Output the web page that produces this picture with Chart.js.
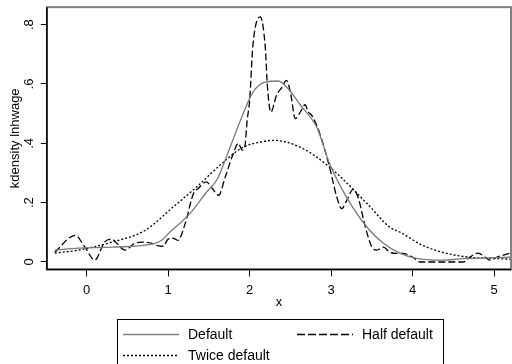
<!DOCTYPE html>
<html>
<head>
<meta charset="utf-8">
<script src="https://cdn.jsdelivr.net/npm/chart.js@4/dist/chart.umd.min.js"></script>
<style>
  html, body { margin: 0; padding: 0; background: #fff; overflow: hidden; }
  #wrap { position: relative; width: 512px; height: 364px; }
  #legend {
    position: absolute; left: 117px; top: 319px; width: 327px; height: 60px;
    border: 1px solid #000; box-sizing: border-box;
    font-family: "Liberation Sans", Arial, sans-serif; font-size: 14px; color: #000;
  }
  .item { position: absolute; height: 16px; line-height: 16px; }
  .item svg { position: absolute; left: 0; top: 7px; }
  .lbl { position: absolute; left: 65px; top: 0; white-space: nowrap; }
</style>
</head>
<body>
<div id="wrap">
  <canvas id="myChart" width="512" height="364"></canvas>
  <div id="legend">
    <div class="item" style="left:5px;top:6px;">
      <svg width="56" height="3"><line x1="0" y1="1.5" x2="56" y2="1.5" stroke="#808080" stroke-width="1.5"/></svg>
      <div class="lbl">Default</div>
    </div>
    <div class="item" style="left:179px;top:6px;">
      <svg width="56" height="3"><line x1="0" y1="1.5" x2="56" y2="1.5" stroke="#000" stroke-width="1.5" stroke-dasharray="8 3"/></svg>
      <div class="lbl">Half default</div>
    </div>
    <div class="item" style="left:5px;top:27px;">
      <svg width="56" height="3"><line x1="0" y1="1.5" x2="56" y2="1.5" stroke="#000" stroke-width="1.3" stroke-dasharray="2 2"/></svg>
      <div class="lbl">Twice default</div>
    </div>
  </div>
</div>
<script>
// kernel density of lnhwage, three bandwidths
const defaultX = [-0.39, -0.1, 0.31, 0.84, 0.92, 1.02, 1.27, 1.47, 1.6, 1.76, 1.92, 2.04, 2.19, 2.35, 2.47, 2.62, 2.83, 2.98, 3.19, 3.44, 3.64, 3.85, 4.05, 4.34, 4.67, 5.2];
const defaultY = [0.04, 0.047, 0.05, 0.063, 0.073, 0.1, 0.164, 0.235, 0.278, 0.387, 0.5, 0.572, 0.606, 0.61, 0.585, 0.53, 0.45, 0.332, 0.218, 0.117, 0.063, 0.029, 0.012, 0.006, 0.012, 0.016];

const halfX = [-0.39, -0.14, -0.02, 0.1, 0.22, 0.31, 0.37, 0.47, 0.59, 0.68, 0.8, 0.86, 0.94, 1.0, 1.06, 1.12, 1.21, 1.31, 1.37, 1.47, 1.53, 1.62, 1.7, 1.8, 1.86, 1.91, 1.94, 1.97, 2.0, 2.04, 2.13, 2.19, 2.22, 2.26, 2.33, 2.4, 2.45, 2.5, 2.56, 2.62, 2.68, 2.72, 2.76, 2.86, 2.98, 3.07, 3.13, 3.19, 3.27, 3.33, 3.42, 3.5, 3.56, 3.64, 3.72, 3.8, 3.88, 4.0, 4.09, 4.62, 4.7, 4.8, 4.89, 4.95, 5.03, 5.2];
const halfY = [0.033, 0.09, 0.05, 0.006, 0.067, 0.077, 0.063, 0.04, 0.063, 0.067, 0.063, 0.056, 0.053, 0.077, 0.08, 0.073, 0.13, 0.23, 0.248, 0.27, 0.252, 0.225, 0.286, 0.366, 0.4, 0.377, 0.387, 0.478, 0.545, 0.73, 0.826, 0.73, 0.585, 0.505, 0.562, 0.59, 0.612, 0.573, 0.483, 0.505, 0.53, 0.505, 0.495, 0.433, 0.32, 0.218, 0.18, 0.207, 0.245, 0.218, 0.117, 0.05, 0.04, 0.05, 0.033, 0.029, 0.029, 0.016, 0.0, 0.0, 0.016, 0.03, 0.016, 0.006, 0.016, 0.03];

const twiceX = [-0.39, -0.1, 0.31, 0.72, 1.06, 1.35, 1.68, 1.92, 2.13, 2.29, 2.62, 2.98, 3.44, 3.72, 3.85, 4.13, 4.54, 5.2];
const twiceY = [0.03, 0.04, 0.067, 0.107, 0.185, 0.253, 0.337, 0.387, 0.404, 0.41, 0.387, 0.32, 0.197, 0.117, 0.1, 0.055, 0.022, 0.009];

const xTicks = [0, 1, 2, 3, 4, 5];
const yTicks = [0, 0.2, 0.4, 0.6, 0.8];
const yTickLabels = ['0', '.2', '.4', '.6', '.8'];

const fam = '"Liberation Sans", Arial, sans-serif';

function pairs(xs, ys) {
  return xs.map((x, i) => ({ x: x, y: ys[i] }));
}

// gray box round the plot region, dark axis lines left and bottom
const frame = {
  id: 'frame',
  afterDraw(c) {
    const a = c.chartArea;
    const ctx = c.ctx;
    ctx.save();
    ctx.strokeStyle = '#808080';
    ctx.lineWidth = 2;
    ctx.strokeRect(a.left, a.top, a.right - a.left, a.bottom - a.top);
    ctx.strokeStyle = '#000';
    ctx.lineWidth = 1.5;
    ctx.beginPath();
    ctx.moveTo(a.left, a.top);
    ctx.lineTo(a.left, a.bottom);
    ctx.lineTo(a.right, a.bottom);
    ctx.stroke();
    ctx.restore();
  }
};

const ctx = document.getElementById('myChart').getContext('2d');
const chart = new Chart(ctx, {
  type: 'line',
  data: {
    datasets: [{
      label: 'Default',
      data: pairs(defaultX, defaultY),
      borderColor: '#7a7a7a',
      borderWidth: 1.3,
      pointRadius: 0,
      cubicInterpolationMode: 'monotone'
    }, {
      label: 'Half default',
      data: pairs(halfX, halfY),
      borderColor: '#000',
      borderWidth: 1.3,
      borderDash: [7, 3],
      pointRadius: 0,
      cubicInterpolationMode: 'monotone'
    }, {
      label: 'Twice default',
      data: pairs(twiceX, twiceY),
      borderColor: '#000',
      borderWidth: 1.3,
      borderDash: [2, 2],
      pointRadius: 0,
      cubicInterpolationMode: 'monotone'
    }]
  },
  options: {
    responsive: false,
    animation: false,
    layout: { padding: { left: 0, right: 1, top: 7, bottom: 54 } },
    plugins: {
      legend: { display: false },
      tooltip: { enabled: false }
    },
    scales: {
      x: {
        type: 'linear',
        min: -0.487,
        max: 5.206,
        afterBuildTicks: s => { s.ticks = xTicks.map(v => ({ value: v })); },
        ticks: { color: '#000', font: { family: fam, size: 13 }, padding: 6.7, maxRotation: 0 },
        grid: { drawOnChartArea: false, tickLength: 7, color: '#000' },
        border: { display: false },
        title: { display: true, text: 'x', color: '#000', font: { family: fam, size: 13 }, padding: { top: -11, bottom: 0 } }
      },
      y: {
        type: 'linear',
        min: -0.025,
        max: 0.859,
        afterBuildTicks: s => { s.ticks = yTicks.map(v => ({ value: v })); },
        ticks: {
          color: '#000', font: { family: fam, size: 13, lineHeight: 0.1 }, padding: 6.5,
          minRotation: 90, maxRotation: 90, crossAlign: 'center',
          callback: (v) => yTickLabels[yTicks.indexOf(v)]
        },
        grid: { drawOnChartArea: false, tickLength: 6, color: '#000' },
        border: { display: false },
        title: { display: true, text: 'kdensity lnhwage', color: '#000', font: { family: fam, size: 13 }, padding: { top: 8, bottom: 3 } }
      }
    }
  },
  plugins: [frame]
});
</script>
</body>
</html>
